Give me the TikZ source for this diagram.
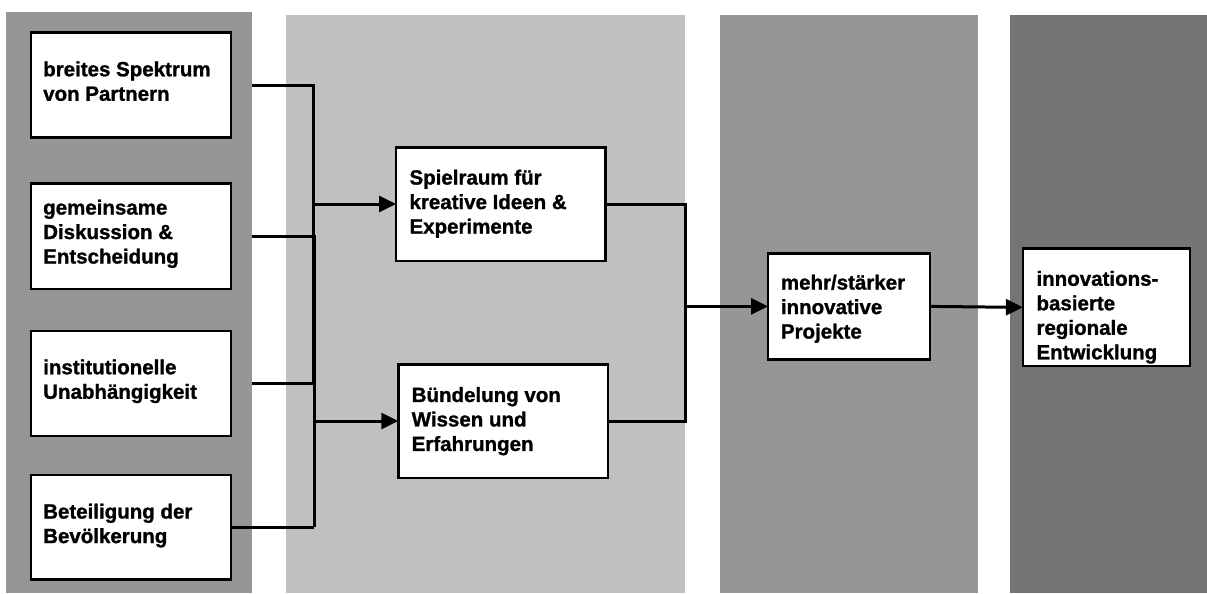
\documentclass[tikz,border=0pt]{standalone}
\usepackage{fontspec}
\setmainfont{Liberation Sans}[BoldFeatures={FakeBold=1.2}]
\usetikzlibrary{arrows.meta,calc,shadows}

\definecolor{panelmid}{gray}{0.588}
\definecolor{panellight}{gray}{0.753}
\definecolor{paneldark}{gray}{0.455}

\begin{document}
\begin{tikzpicture}[x=1pt,y=-1pt,
  panel/.style={draw=none, inner sep=0pt, outer sep=0pt, anchor=north west},
  box/.style={draw=black, line width=2.4pt, fill=white, inner sep=0pt, outer sep=0pt,
    anchor=north west,
    drop shadow={shadow xshift=0.8pt, shadow yshift=-0.8pt, fill=black, opacity=1}},
  boxtext/.style={anchor=north west, inner sep=0pt, align=left,
    font=\fontsize{20.5}{24.5}\selectfont\bfseries},
  wire/.style={line width=3pt},
  arrow/.style={wire, -{Triangle[length=17pt,width=16pt]}}]

\useasboundingbox (0,0) rectangle (1207,594);

% background columns
\node[panel, fill=panelmid,   minimum width=246pt, minimum height=581pt] (p1) at (6,12) {};
\node[panel, fill=panellight, minimum width=399pt, minimum height=578pt] (p2) at (286,15) {};
\node[panel, fill=panelmid,   minimum width=258pt, minimum height=578pt] (p3) at (720,15) {};
\node[panel, fill=paneldark,  minimum width=197pt, minimum height=578pt] (p4) at (1010,15) {};

% boxes
\node[box, minimum width=200pt, minimum height=104.6pt] (b1) at (31,32.7) {};
\node[box, minimum width=200pt, minimum height=105.4pt] (b2) at (31,183.3) {};
\node[box, minimum width=200pt, minimum height=105.3pt] (b3) at (31,330.7) {};
\node[box, minimum width=200pt, minimum height=104.3pt] (b4) at (31,475) {};
\node[box, minimum width=209.3pt, minimum height=113.4pt] (spiel) at (396,147.3) {};
\node[box, minimum width=209.4pt, minimum height=113.4pt] (buend) at (398.3,364.3) {};
\node[box, minimum width=161.7pt, minimum height=106.2pt] (mehr) at (768,253.3) {};
\node[box, minimum width=167.1pt, minimum height=117.6pt] (innov) at (1022.9,248.6) {};

% box texts
\node[boxtext] (t1) at (43,61.2) {breites Spektrum\\von Partnern};
\node[boxtext] (t2) at (43,199.5) {gemeinsame\\Diskussion \&\\Entscheidung};
\node[boxtext] (t3) at (43,359.2) {institutionelle\\Unabhängigkeit};
\node[boxtext] (t4) at (43,503.5) {Beteiligung der\\Bevölkerung};
\node[boxtext] (t5) at (409.3,169.5) {Spielraum für\\kreative Ideen \&\\Experimente};
\node[boxtext] (t6) at (411.5,386.9) {Bündelung von\\Wissen und\\Erfahrungen};
\node[boxtext] (t7) at (780.7,274.5) {mehr/stärker\\innovative\\Projekte};
\node[boxtext] (t8) at (1036.3,270.7) {innovations-\\basierte\\regionale\\Entwicklung};

% bus lines
\coordinate (busA) at (313,0);
\coordinate (busB) at (314.3,0);
\coordinate (busC) at (685.7,0);

\draw[wire] (b1.east -| p1.east) -- (b1.east -| busA) -- (b3.east -| busA);
\draw[wire] (b2.east -| p1.east) -- (b2.east -| busB) -- (b4.east -| busB);
\draw[wire] (b3.east -| p1.east) -- (b3.east -| busA);
\draw[wire] (b4.east) -- (b4.east -| busB);
\draw[arrow] (spiel.west -| busA) -- (spiel.west);
\draw[arrow] (buend.west -| busB) -- (buend.west);

\draw[wire] (spiel.east) -- (spiel.east -| busC) -- (buend.east -| busC) -- (buend.east);
\draw[arrow] (mehr.west -| busC) -- (mehr.west);
\draw[arrow] (mehr.east) -- (innov.west);
\end{tikzpicture}
\end{document}
